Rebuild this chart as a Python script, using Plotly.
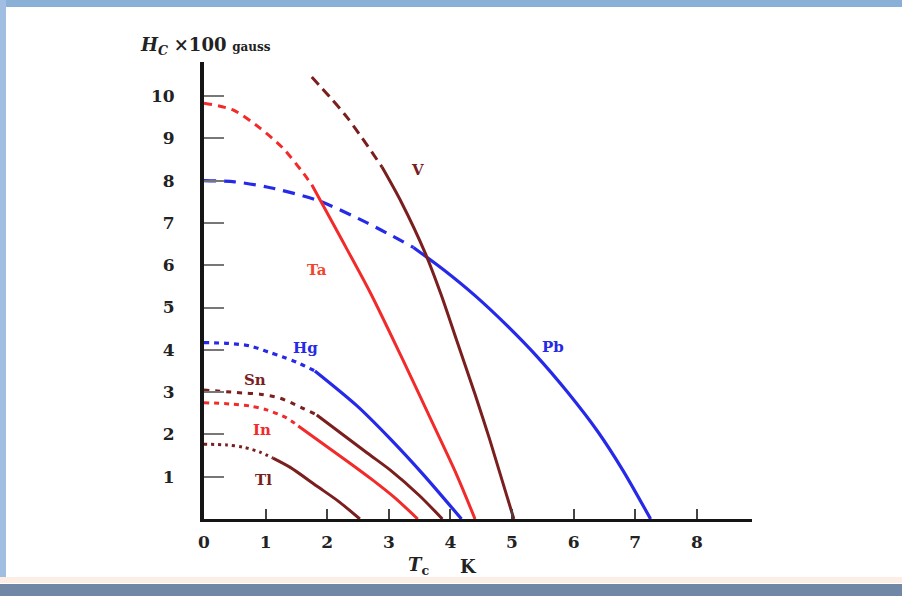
import plotly.graph_objects as go

# ---- data (T in K, Hc in units of 100 gauss) ----
x_ticks = [0, 1, 2, 3, 4, 5, 6, 7, 8]
y_ticks = [1, 2, 3, 4, 5, 6, 7, 8, 9, 10]

pb_T_dash = [0.0, 0.5, 1.02, 1.83, 2.65, 3.4]
pb_H_dash = [8.0, 7.97, 7.85, 7.54, 7.0, 6.42]
pb_T_solid = [3.4, 3.9, 4.4, 4.9, 5.4, 5.9, 6.4, 6.8, 7.25]
pb_H_solid = [6.42, 5.88, 5.28, 4.6, 3.85, 3.0, 2.05, 1.15, 0.0]

v_T_dash = [1.75, 2.32, 2.89]
v_H_dash = [10.45, 9.5, 8.32]
v_T_solid = [2.89, 3.2, 3.59, 3.85, 4.1, 4.4, 4.64, 5.03]
v_H_solid = [8.32, 7.5, 6.29, 5.3, 4.23, 2.95, 1.87, 0.0]

ta_T_dash = [0.0, 0.47, 0.91, 1.28, 1.61, 1.75]
ta_H_dash = [9.83, 9.67, 9.24, 8.77, 8.18, 7.9]
ta_T_solid = [1.75, 2.2, 2.7, 3.2, 3.7, 4.1, 4.4]
ta_H_solid = [7.9, 6.7, 5.35, 3.85, 2.3, 1.05, 0.0]

hg_T_dash = [0.0, 0.4, 0.75, 1.04, 1.28, 1.5, 1.8]
hg_H_dash = [4.17, 4.15, 4.09, 3.95, 3.83, 3.71, 3.5]
hg_T_solid = [1.8, 2.48, 3.02, 3.56, 4.18]
hg_H_solid = [3.5, 2.68, 1.9, 1.05, 0.0]

sn_T_dash = [0.0, 0.63, 0.91, 1.23, 1.56, 1.83]
sn_H_dash = [3.05, 2.98, 2.95, 2.86, 2.65, 2.46]
sn_T_solid = [1.83, 2.65, 3.02, 3.5, 3.87]
sn_H_solid = [2.46, 1.56, 1.16, 0.55, 0.0]

in_T_dash = [0.0, 0.42, 0.75, 1.02, 1.34, 1.53]
in_H_dash = [2.75, 2.72, 2.67, 2.58, 2.39, 2.2]
in_T_solid = [1.53, 2.37, 2.74, 3.1, 3.47]
in_H_solid = [2.2, 1.32, 0.92, 0.5, 0.0]

tl_T_dash = [0.0, 0.37, 0.63, 0.91, 1.12]
tl_H_dash = [1.77, 1.75, 1.7, 1.58, 1.44]
tl_T_solid = [1.12, 1.4, 1.83, 2.2, 2.53]
tl_H_solid = [1.44, 1.22, 0.78, 0.4, 0.0]

metal_names = ["V", "Ta", "Pb", "Hg", "Sn", "In", "Tl"]
label_T = [3.47, 1.83, 5.67, 1.64, 0.83, 0.94, 0.96]
label_H = [8.25, 5.89, 4.07, 4.04, 3.29, 2.1, 0.92]

# ---- styles ----
BLUE = "rgb(38,42,232)"
RED = "rgb(242,42,42)"
DARK = "rgb(122,30,30)"
FONT = "DejaVu Serif"

curves = [
    (pb_T_dash, pb_H_dash, pb_T_solid, pb_H_solid, BLUE, "12px,8px", 3.2),
    (v_T_dash, v_H_dash, v_T_solid, v_H_solid, DARK, "10px,6px", 3.0),
    (ta_T_dash, ta_H_dash, ta_T_solid, ta_H_solid, RED, "8px,6px", 3.0),
    (hg_T_dash, hg_H_dash, hg_T_solid, hg_H_solid, BLUE, "5px,5px", 3.2),
    (sn_T_dash, sn_H_dash, sn_T_solid, sn_H_solid, DARK, "5px,6px", 3.0),
    (in_T_dash, in_H_dash, in_T_solid, in_H_solid, RED, "5px,5px", 3.0),
    (tl_T_dash, tl_H_dash, tl_T_solid, tl_H_solid, DARK, "3px,4px", 3.0),
]
label_colors = [DARK, "rgb(240,70,45)", BLUE, BLUE, DARK, RED, DARK]

fig = go.Figure()
for td, hd, ts, hs, col, dash, w in curves:
    fig.add_trace(go.Scatter(x=td, y=hd, mode="lines",
                             line=dict(color=col, width=w, dash=dash, shape="spline", smoothing=0.8),
                             hoverinfo="skip", showlegend=False))
    fig.add_trace(go.Scatter(x=ts, y=hs, mode="lines",
                             line=dict(color=col, width=w, shape="spline", smoothing=0.8),
                             hoverinfo="skip", showlegend=False))

for name, t, h, c in zip(metal_names, label_T, label_H, label_colors):
    fig.add_annotation(x=t, y=h, xref="x", yref="y", text="<b>%s</b>" % name,
                       showarrow=False, font=dict(family=FONT, size=15, color=c))

# pixel helpers for paper placement
L, R, T, B = 204, 752, 62, 519
def px(xp):
    return (xp - L) / (R - L)
def py(yp):
    return (B - yp) / (B - T)

fig.add_annotation(x=px(138), y=py(46), xref="paper", yref="paper", xanchor="left",
                   yanchor="middle", showarrow=False,
                   text="<b><i>H</i></b><sub><b><i>C</i></b></sub> <b>×100</b> "
                        "<span style='font-size:12px'><b>gauss</b></span>",
                   font=dict(family=FONT, size=18, color="#222"))
fig.add_annotation(x=px(406), y=py(566), xref="paper", yref="paper", xanchor="left",
                   yanchor="middle", showarrow=False,
                   text="<b><i>T</i></b><sub><b>c</b></sub>",
                   font=dict(family=FONT, size=18, color="#222"))
fig.add_annotation(x=px(468), y=py(566), xref="paper", yref="paper", xanchor="center",
                   yanchor="middle", showarrow=False, text="<b>K</b>",
                   font=dict(family=FONT, size=18, color="#222"))

# frame bands
fig.add_shape(type="rect", xref="paper", yref="paper", x0=px(0), x1=px(902),
              y0=py(7), y1=py(0), fillcolor="rgb(138,176,216)", line_width=0, layer="below")
fig.add_shape(type="rect", xref="paper", yref="paper", x0=px(0), x1=px(6),
              y0=py(583), y1=py(0), fillcolor="rgb(160,190,225)", line_width=0, layer="below")
fig.add_shape(type="rect", xref="paper", yref="paper", x0=px(0), x1=px(902),
              y0=py(577), y1=py(583), fillcolor="rgb(252,238,228)", line_width=0, layer="below")
fig.add_shape(type="rect", xref="paper", yref="paper", x0=px(0), x1=px(902),
              y0=py(596), y1=py(584), fillcolor="rgb(112,136,166)", line_width=0, layer="below")

fig.update_layout(
    width=902, height=596,
    margin=dict(l=L, r=902 - R, t=T, b=596 - B),
    paper_bgcolor="white", plot_bgcolor="white",
    xaxis=dict(range=[0, (R - L) / 61.6], tickvals=x_ticks,
               ticktext=["<b>%d</b>" % v for v in x_ticks],
               showgrid=False, zeroline=False, showline=True, linecolor="#151515", linewidth=3,
               ticks="inside", ticklen=10, tickwidth=2, tickcolor="#444",
               tickfont=dict(family=FONT, size=17, color="#222"), ticklabelstandoff=6,
               fixedrange=True),
    yaxis=dict(range=[0, (B - T) / 42.3], tickvals=y_ticks,
               ticktext=["<b>%d</b>" % v for v in y_ticks],
               showgrid=False, zeroline=False, showline=True, linecolor="#151515", linewidth=4,
               ticks="inside", ticklen=20, tickwidth=2, tickcolor="#777",
               tickfont=dict(family=FONT, size=17, color="#222"), ticklabelstandoff=22,
               fixedrange=True),
)

fig.write_html("out.html", config={"displayModeBar": False},
               post_script="document.body.style.margin='0';document.body.style.overflow='hidden';")
